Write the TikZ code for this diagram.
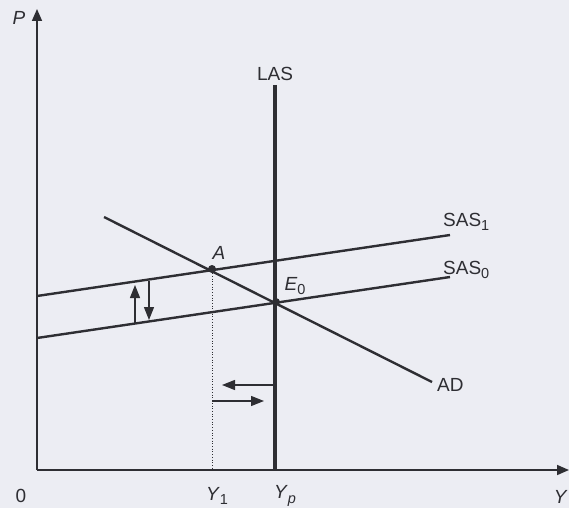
\documentclass[tikz,border=0pt]{standalone}
\usepackage{fontspec}
\setmainfont{Liberation Sans}
\usetikzlibrary{arrows.meta}
\definecolor{paper}{HTML}{ECEDF3}
\definecolor{ink}{HTML}{2E2E33}
\newcommand{\lowsub}[1]{\raisebox{-0.45ex}{\fontsize{14.5}{14.5}\selectfont #1}}
\tikzset{
  curve/.style={ink, line width=2.4pt},
  axis/.style={ink, line width=1.6pt, -{Triangle[length=12pt,width=10pt]}},
  move/.style={ink, line width=1.2pt, -{Triangle[length=13pt,width=10pt]}},
  lbl/.style={ink, inner sep=0pt, font=\fontsize{19}{21}\selectfont},
  dot/.style={circle, fill=ink, inner sep=0pt, minimum size=8pt}
}
\begin{document}
\begin{tikzpicture}[x=1pt,y=-1pt]
\fill[paper] (0,0) rectangle (569,508);
\useasboundingbox (0,0) rectangle (569,508);
% axes
\coordinate (O) at (37,470);
\coordinate (ytop) at (37,9);
\coordinate (xend) at (569,470);
\draw[axis] (O) -- (ytop);
\draw[axis] (O) -- (xend);
\node[lbl] (Plbl) at (19,18) {\textit{P}};
\node[lbl, anchor=east] (Ylbl) at (568,497) {\textit{Y}};
\node[lbl] (zero) at (21,496) {0};
% LAS
\coordinate (lastop) at (275,85);
\coordinate (lasbot) at (275,470);
\draw[ink, line width=3.2pt] (lastop) -- (lasbot);
\node[lbl] (LAS) at (275,74) {LAS};
% SAS curves
\coordinate (s1a) at (37,296);
\coordinate (s1b) at (450,235);
\coordinate (s0a) at (37,338);
\coordinate (s0b) at (450,277);
\draw[curve] (s1a) -- (s1b);
\draw[curve] (s0a) -- (s0b);
\node[lbl, anchor=west] (SAS1) at (443,222) {SAS\lowsub{1}};
\node[lbl, anchor=west] (SAS0) at (443,270) {SAS\lowsub{0}};
% AD
\coordinate (ada) at (104,217);
\coordinate (adb) at (432,382);
\draw[curve] (ada) -- (adb);
\node[lbl, anchor=west] (AD) at (437,385) {AD};
% points
\node[dot] (A) at (212,269) {};
\node[dot] (E0) at (276,302) {};
\node[lbl] (Albl) at (219,253) {\textit{A}};
\node[lbl] (E0lbl) at (295,286) {\textit{E}\lowsub{0}};
% dotted drop line
\coordinate (y1foot) at (212,470);
\draw[ink, line width=0.7pt, dotted] (A) -- (y1foot);
\node[lbl] (Y1lbl) at (217,496) {\textit{Y}\lowsub{1}};
\node[lbl] (Yplbl) at (285,496) {\textit{Y}\lowsub{\textit{p}}};
% vertical arrows
\coordinate (u0) at (135,323);
\coordinate (u1) at (135,285);
\coordinate (d0) at (149,281);
\coordinate (d1) at (149,320);
\draw[move] (u0) -- (u1);
\draw[move] (d0) -- (d1);
% horizontal arrows
\coordinate (l0) at (275,385);
\coordinate (l1) at (222,385);
\coordinate (r0) at (212,401);
\coordinate (r1) at (264,401);
\draw[move] (l0) -- (l1);
\draw[move] (r0) -- (r1);
\end{tikzpicture}
\end{document}
